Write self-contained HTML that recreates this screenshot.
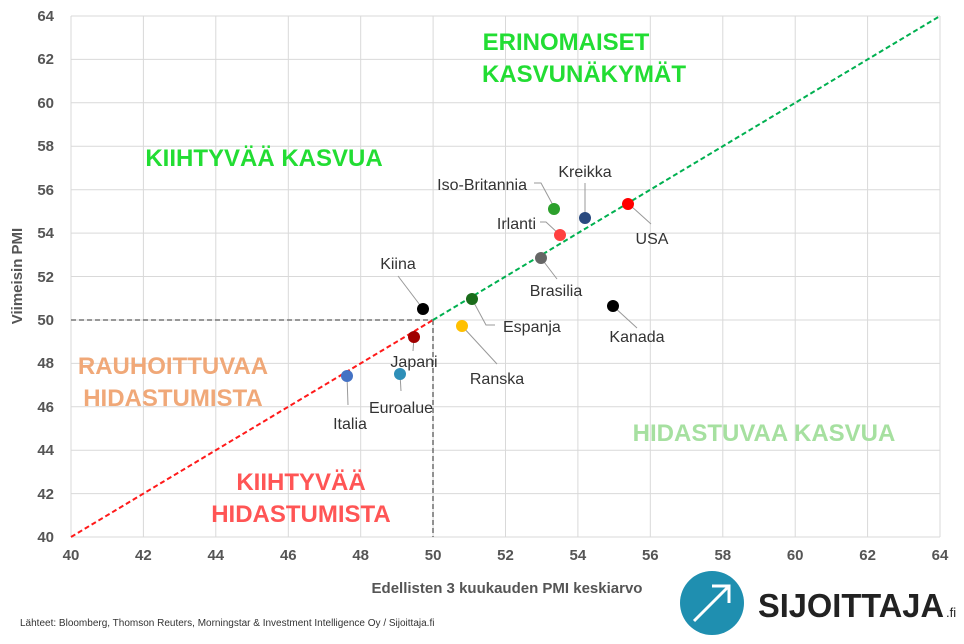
<!DOCTYPE html>
<html><head><meta charset="utf-8"><style>
body{margin:0;background:#fff;}
svg text{font-family:"Liberation Sans",Arial,sans-serif;}
</style></head><body>
<svg width="964" height="639" xmlns="http://www.w3.org/2000/svg">
<g stroke="#d9d9d9" stroke-width="1">
<line x1="71" y1="16" x2="940" y2="16"/><line x1="71" y1="59.4" x2="940" y2="59.4"/><line x1="71" y1="102.8" x2="940" y2="102.8"/><line x1="71" y1="146.3" x2="940" y2="146.3"/><line x1="71" y1="189.7" x2="940" y2="189.7"/><line x1="71" y1="233.1" x2="940" y2="233.1"/><line x1="71" y1="276.5" x2="940" y2="276.5"/><line x1="71" y1="320" x2="940" y2="320"/><line x1="71" y1="363.4" x2="940" y2="363.4"/><line x1="71" y1="406.8" x2="940" y2="406.8"/><line x1="71" y1="450.2" x2="940" y2="450.2"/><line x1="71" y1="493.6" x2="940" y2="493.6"/><line x1="71" y1="537" x2="940" y2="537"/>
<line x1="71" y1="16" x2="71" y2="537"/><line x1="143.4" y1="16" x2="143.4" y2="537"/><line x1="215.8" y1="16" x2="215.8" y2="537"/><line x1="288.3" y1="16" x2="288.3" y2="537"/><line x1="360.7" y1="16" x2="360.7" y2="537"/><line x1="433.1" y1="16" x2="433.1" y2="537"/><line x1="505.5" y1="16" x2="505.5" y2="537"/><line x1="577.9" y1="16" x2="577.9" y2="537"/><line x1="650.3" y1="16" x2="650.3" y2="537"/><line x1="722.8" y1="16" x2="722.8" y2="537"/><line x1="795.2" y1="16" x2="795.2" y2="537"/><line x1="867.6" y1="16" x2="867.6" y2="537"/><line x1="940" y1="16" x2="940" y2="537"/>
</g>
<g font-size="15" font-weight="bold" fill="#555" text-anchor="middle">
<text x="71" y="560">40</text><text x="143.4" y="560">42</text><text x="215.8" y="560">44</text><text x="288.3" y="560">46</text><text x="360.7" y="560">48</text><text x="433.1" y="560">50</text><text x="505.5" y="560">52</text><text x="577.9" y="560">54</text><text x="650.3" y="560">56</text><text x="722.8" y="560">58</text><text x="795.2" y="560">60</text><text x="867.6" y="560">62</text><text x="940" y="560">64</text>
</g>
<g font-size="15" font-weight="bold" fill="#555" text-anchor="end">
<text x="54" y="21">64</text><text x="54" y="64">62</text><text x="54" y="108">60</text><text x="54" y="151">58</text><text x="54" y="195">56</text><text x="54" y="238">54</text><text x="54" y="282">52</text><text x="54" y="325">50</text><text x="54" y="368">48</text><text x="54" y="412">46</text><text x="54" y="455">44</text><text x="54" y="499">42</text><text x="54" y="542">40</text>
</g>
<text x="507" y="593" font-size="15" font-weight="bold" fill="#555" text-anchor="middle">Edellisten 3 kuukauden PMI keskiarvo</text>
<text transform="translate(22,276) rotate(-90)" font-size="15" font-weight="bold" fill="#555" text-anchor="middle">Viimeisin PMI</text>
<g stroke="#777" stroke-width="1.6" stroke-dasharray="5,3" fill="none">
<line x1="71" y1="320" x2="433" y2="320"/><line x1="433" y1="320" x2="433" y2="537"/>
</g>
<line x1="71" y1="537" x2="433" y2="320" stroke="#ff1a1a" stroke-width="2" stroke-dasharray="5,3"/>
<line x1="433" y1="320" x2="940" y2="16" stroke="#00b050" stroke-width="2" stroke-dasharray="5,3"/>
<g stroke="#999" stroke-width="1" fill="none">
<polyline points="534,183 541,183 554,207"/>
<line x1="585" y1="183" x2="585" y2="215"/>
<polyline points="540,222 546,222 560,235"/>
<line x1="631" y1="206" x2="651" y2="224"/>
<line x1="541" y1="258" x2="557" y2="279"/>
<line x1="398" y1="276" x2="423" y2="309"/>
<polyline points="472,299 486,325 495,325"/>
<line x1="462" y1="326" x2="497" y2="364"/>
<line x1="613" y1="306" x2="637" y2="328"/>
<line x1="414" y1="337" x2="413" y2="351"/>
<line x1="400" y1="374" x2="401" y2="391"/>
<line x1="347" y1="376" x2="348" y2="405"/>
</g>
<g>
<circle cx="554" cy="209" r="6" fill="#2ca02c"/>
<circle cx="585" cy="218" r="6" fill="#2a4a7f"/>
<circle cx="560" cy="235" r="6" fill="#ff4040"/>
<circle cx="628" cy="204" r="6" fill="#ff0000"/>
<circle cx="541" cy="258" r="6" fill="#666"/>
<circle cx="423" cy="309" r="6" fill="#000"/>
<circle cx="472" cy="299" r="6" fill="#1a6b1a"/>
<circle cx="462" cy="326" r="6" fill="#ffc000"/>
<circle cx="613" cy="306" r="6" fill="#000"/>
<circle cx="414" cy="337" r="6" fill="#a00000"/>
<circle cx="400" cy="374" r="6" fill="#2e8fb8"/>
<circle cx="347" cy="376" r="6" fill="#4472c4"/>
</g>
<g font-size="16" fill="#333">
<text x="527" y="190" text-anchor="end">Iso-Britannia</text>
<text x="585" y="177" text-anchor="middle">Kreikka</text>
<text x="536" y="229" text-anchor="end">Irlanti</text>
<text x="652" y="244" text-anchor="middle">USA</text>
<text x="556" y="296" text-anchor="middle">Brasilia</text>
<text x="398" y="269" text-anchor="middle">Kiina</text>
<text x="503" y="332">Espanja</text>
<text x="497" y="384" text-anchor="middle">Ranska</text>
<text x="637" y="342" text-anchor="middle">Kanada</text>
<text x="414" y="367" text-anchor="middle">Japani</text>
<text x="401" y="413" text-anchor="middle">Euroalue</text>
<text x="350" y="429" text-anchor="middle">Italia</text>
</g>
<g font-size="24" font-weight="bold" text-anchor="middle">
<text x="566" y="50" fill="#22dd33">ERINOMAISET</text>
<text x="584" y="82" fill="#22dd33">KASVUNÄKYMÄT</text>
<text x="264" y="166" fill="#22dd33">KIIHTYVÄÄ KASVUA</text>
<text x="173" y="374" fill="#f0a878">RAUHOITTUVAA</text>
<text x="173" y="406" fill="#f0a878">HIDASTUMISTA</text>
<text x="301" y="490" fill="#ff5555">KIIHTYVÄÄ</text>
<text x="301" y="522" fill="#ff5555">HIDASTUMISTA</text>
<text x="764" y="441" fill="#a6e0a0">HIDASTUVAA KASVUA</text>
</g>
<text x="20" y="626" font-size="10" fill="#333">Lähteet: Bloomberg, Thomson Reuters, Morningstar &amp; Investment Intelligence Oy / Sijoittaja.fi</text>
<circle cx="712" cy="603" r="32" fill="#1f8fb0"/>
<line x1="694" y1="621" x2="728" y2="587" stroke="#fff" stroke-width="3"/>
<polyline points="712,586 729,586 729,603" stroke="#fff" stroke-width="3" fill="none"/>
<text x="758" y="617" font-size="33" font-weight="bold" fill="#222" textLength="186" lengthAdjust="spacingAndGlyphs">SIJOITTAJA</text>
<text x="946" y="617" font-size="13" fill="#222">.fi</text>
</svg>
</body></html>
